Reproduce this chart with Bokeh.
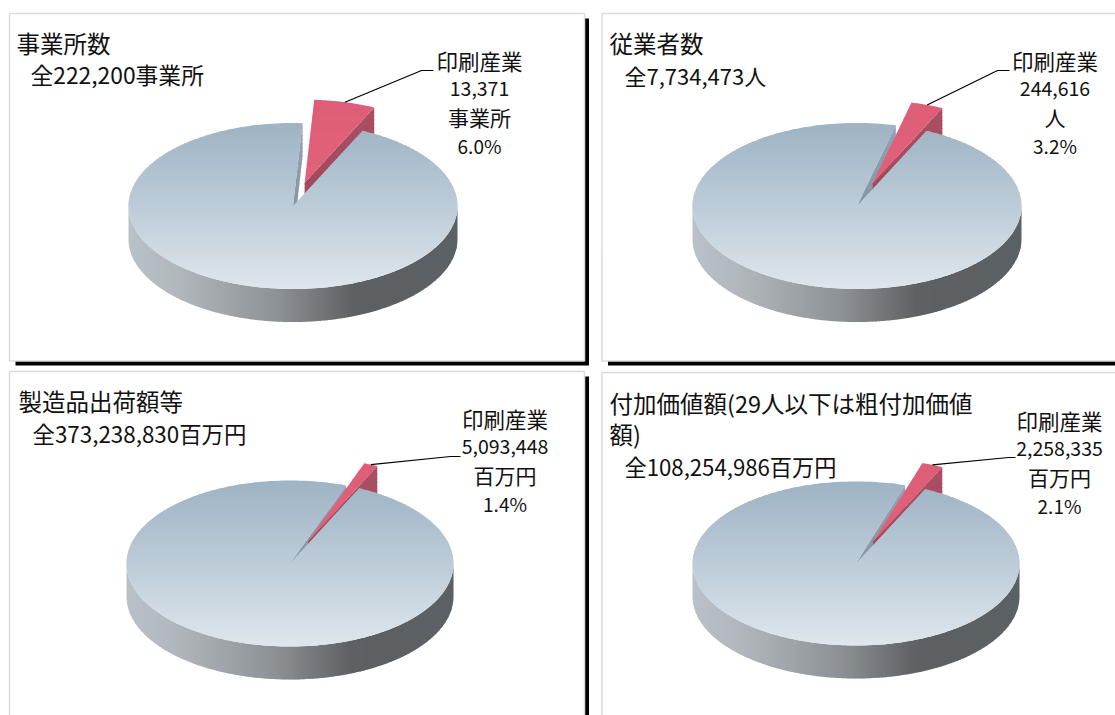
import math
from bokeh.plotting import figure
from bokeh.models import Range1d
from bokeh.core.properties import value
from bokeh.embed import file_html
from bokeh.resources import INLINE

# --- data ---
titles = [["事業所数"], ["従業者数"], ["製造品出荷額等"], ["付加価値額(29人以下は粗付加価値", "額)"]]
totals = [222200, 7734473, 373238830, 108254986]
industry_values = [13371, 244616, 5093448, 2258335]
units = ["事業所", "人", "百万円", "百万円"]
industry_name = "印刷産業"

# --- layout (screen pixels) ---
FONT = "Noto Sans CJK JP"
centers = [(292.5, 205.5), (856.5, 205.5), (289.5, 563), (855.5, 563)]
radii = [(164.5, 83), (164.5, 83), (163.5, 83), (163.5, 82)]
depth = 33
END_ANGLE = 25.0
EXPLODE = 0.29
title_pos = [(16, 42), (609, 42), (18, 400), (609, 402)]
total_pos = [(30, 74), (624, 74), (32, 432), (624, 465)]
total_sizes = ["22.8px", "22px", "22.4px", "22.2px"]
label_pos = [(479, 60), (1054.5, 60), (504.5, 418), (1059, 420)]
leader_elbow = [(421, 70), (997, 70), (450, 456), (1008, 457)]
leader_end = [(433, 70), (1009, 70), (460, 456), (1015, 457)]
frames = [(9, 584, 13, 360.5), (601.5, 1125, 13, 360.5), (9, 584, 371, 725), (601.5, 1125, 372, 725)]
shadow_offset = (6, 5)

p = figure(width=1115, height=715, x_range=Range1d(0, 1115), y_range=Range1d(715, 0),
           toolbar_location=None, output_backend="svg", min_border=0,
           background_fill_color="white", border_fill_color="white")
p.axis.visible = False
p.grid.visible = False
p.outline_line_color = None


def hexmix(stops, t):
    t = max(0.0, min(1.0, t))
    for (a, ca), (b, cb) in zip(stops, stops[1:]):
        if t <= b:
            f = (t - a) / (b - a) if b > a else 0
            return "#%02x%02x%02x" % tuple(round(ca[i] + (cb[i] - ca[i]) * f) for i in range(3))
    return "#%02x%02x%02x" % tuple(stops[-1][1])


TOP = [(0, (158, 179, 196)), (0.5, (189, 204, 216)), (1, (224, 231, 237))]
RIM = [(0, (184, 193, 200)), (0.15, (176, 183, 188)), (0.45, (140, 145, 149)),
       (0.68, (94, 96, 99)), (1, (90, 97, 100))]
RED = [(0, (222, 94, 119)), (1, (224, 98, 122))]
WALL = [(0, (146, 162, 177)), (1, (132, 145, 157))]
REDSIDE = [(0, (172, 78, 100)), (1, (158, 70, 90))]


def clip(poly, axis, lim, sign=1):
    """Keep the part of the polygon with sign * coordinate >= sign * lim."""
    out = []
    n = len(poly)
    for i in range(n):
        a, b = poly[i], poly[(i + 1) % n]
        ina, inb = sign * (a[axis] - lim) >= 0, sign * (b[axis] - lim) >= 0
        if ina:
            out.append(a)
        if ina != inb:
            f = (lim - a[axis]) / (b[axis] - a[axis])
            out.append((a[0] + (b[0] - a[0]) * f, a[1] + (b[1] - a[1]) * f))
    return out


def gradient(poly, axis, lo, hi, step, stops):
    xs, ys, cols = [], [], []
    k = lo
    while k < hi:
        part = clip(poly, axis, k)
        if len(part) > 2:
            part = clip(part, axis, k + step + 1, -1)
        if len(part) > 2:
            xs.append([round(q[0], 2) for q in part])
            ys.append([round(q[1], 2) for q in part])
            cols.append(hexmix(stops, (k - lo) / (hi - lo)))
        k += step
    p.patches(xs, ys, fill_color=cols, line_color=None)


def rim_point(c, r, deg, dx=0, dy=0):
    t = math.radians(deg)
    return (c[0] + dx + r[0] * math.sin(t), c[1] + dy - r[1] * math.cos(t))


def arc(c, r, a, b, dx=0, dy=0, step=1.5):
    n = max(2, int(abs(b - a) / step) + 1)
    return [rim_point(c, r, a + (b - a) * i / (n - 1), dx, dy) for i in range(n)]


# card frames and their black shadows
for (l, rr, t, b) in frames:
    p.quad(left=l + shadow_offset[0], right=rr + 4.5, top=t + shadow_offset[1], bottom=b + 4.5,
           fill_color="black", line_color=None)
    p.quad(left=l, right=rr, top=t, bottom=b, fill_color="white", line_color="#dcdcdc", line_width=1.5)

for i in range(4):
    c, r = centers[i], radii[i]
    share = industry_values[i] / totals[i]
    start = END_ANGLE - 360 * share
    mid = (start + END_ANGLE) / 2
    off = rim_point((0, 0), (r[0] * EXPLODE, r[1] * EXPLODE), mid)
    ac = (c[0] + off[0], c[1] + off[1])

    # front rim of the large slice
    rim = arc(c, r, 90, 270) + arc(c, r, 270, 90, 0, depth)
    gradient(rim, 0, c[0] - r[0], c[0] + r[0] + 1, 3, RIM)

    # inner cut face of the large slice
    w = rim_point(c, r, start)
    wall = [c, w, (w[0], w[1] + depth), (c[0], c[1] + depth)]
    gradient(wall, 1, w[1], c[1] + depth, 4, WALL)

    # side face of the pulled-out slice
    e = rim_point(ac, r, END_ANGLE)
    side = [ac, e, (e[0], e[1] + depth), (ac[0], ac[1] + depth)]
    gradient(side, 1, e[1], ac[1] + depth, 4, REDSIDE)

    # top of the pulled-out slice
    red = [ac] + arc(ac, r, start, END_ANGLE, step=0.5)
    gradient(red, 1, min(q[1] for q in red), max(q[1] for q in red) + 1, 8, RED)

    # top of the large slice
    top = [c] + arc(c, r, END_ANGLE, start + 360)
    gradient(top, 1, c[1] - r[1], c[1] + r[1] + 1, 2, TOP)

    # leader line
    lm = rim_point(ac, r, mid)
    p.line([lm[0], leader_elbow[i][0], leader_end[i][0]],
           [lm[1], leader_elbow[i][1], leader_end[i][1]], line_color="black", line_width=1.2)

    # texts
    tx, ty = title_pos[i]
    for j, line in enumerate(titles[i]):
        p.text([tx], [ty + j * 31], text=[line], text_font=value(FONT), text_font_size="23.5px",
               text_baseline="middle", text_align="left", text_color="#111111")
    p.text([total_pos[i][0]], [total_pos[i][1]], text=[f"全{totals[i]:,}{units[i]}"],
           text_font=value(FONT), text_font_size=total_sizes[i], text_baseline="middle",
           text_align="left", text_color="#111111")
    lines = [industry_name, f"{industry_values[i]:,}", units[i], f"{share * 100:.1f}%"]
    sizes = ["21.5px", "19.5px", "21px", "19px"]
    lx, ly = label_pos[i]
    for j, line in enumerate(lines):
        p.text([lx], [ly + j * 28.4], text=[line], text_font=value(FONT), text_font_size=sizes[j],
               text_baseline="middle", text_align="center", text_color="#111111")

open("out.html", "w").write(file_html(p, INLINE))
